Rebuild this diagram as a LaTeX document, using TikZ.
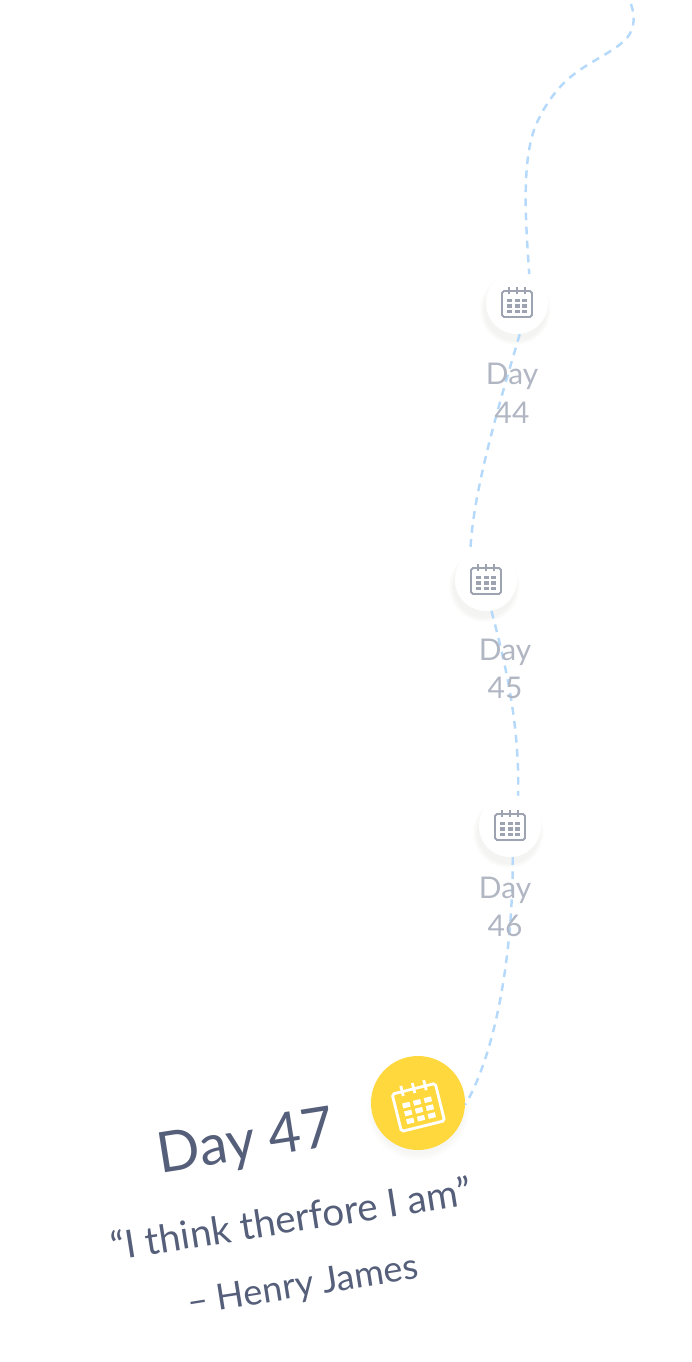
\documentclass[tikz,border=0pt]{standalone}
\usepackage{fontspec}
\setmainfont{Lato}
\usepackage{xcolor}
\usetikzlibrary{shadows,fadings}
\definecolor{trailBlue}{HTML}{B5D9FB}
\definecolor{iconGray}{HTML}{9DA3B1}
\definecolor{dayGray}{HTML}{B1B6C3}
\definecolor{inkNavy}{HTML}{555F7A}
\definecolor{sunYellow}{HTML}{FFD83D}
\newcommand{\calIcon}[5]{% centre, colour, angle, scale, line width
  \begin{scope}[shift={#1}, rotate=#3, scale=#4, draw=#2, fill=#2, line width=#5]
    \draw[fill=none, rounded corners=1.1pt] (-15,-12) rectangle (15,14);
    \foreach \ringX in {-8,0,8} \draw (\ringX,-16) -- (\ringX,-9);
    \foreach \dotX in {-7.5,0,7.5} \foreach \dotY in {-2.5,3,8.5}
      \fill[draw=none] (\dotX-2.5,\dotY-1.7) rectangle (\dotX+2.5,\dotY+1.7);
  \end{scope}
}
\begin{document}
\begin{tikzpicture}[
  x=0.02cm, y=-0.02cm,
  stop/.style={circle, minimum size=1.24cm, inner sep=0pt, fill=white,
               circular drop shadow={shadow xshift=-1pt, shadow yshift=-3pt, shadow scale=1.16, opacity=.07, fill=black!70!yellow}},
  today/.style={circle, minimum size=1.88cm, inner sep=0pt, fill=sunYellow,
               circular drop shadow={shadow xshift=0pt, shadow yshift=-3pt, shadow scale=1.1, opacity=.06, fill=black!70!yellow}},
  trail/.style={draw=trailBlue, line width=1.4pt, dash pattern=on 4.4pt off 3.6pt},
  daylabel/.style={font=\fontsize{17}{22}\selectfont, text=dayGray, align=center, inner sep=0pt},
  inklabel/.style={text=inkNavy, rotate=9, inner sep=0pt}
]
\useasboundingbox (0,0) rectangle (692,1362);

% stops
\node[stop] (cal44) at (517,303) {};
\node[stop] (cal45) at (486,580) {};
\node[stop] (cal46) at (510,826) {};
\node[today] (cal47) at (418,1103) {};

% trail, above the first stop
\coordinate (trailTop) at (631,4);
\coordinate (trailBend) at (627,38);
\coordinate (trailMid) at (573,75);
\coordinate (trailSwing) at (535,127);

\draw[trail] (trailTop) .. controls (635,16) and (635,28) .. (trailBend)
  .. controls (614,52) and (592,60) .. (trailMid)
  .. controls (556,88) and (543,108) .. (trailSwing)
  .. controls (521,165) and (526,225) .. (cal44.67);
\draw[trail] (cal44.-85) .. controls (505,385) and (472,490) .. (cal45.120);
\draw[trail] (cal45.-80) .. controls (503,655) and (520,720) .. (cal46.75);
\draw[trail] (cal46.-85) .. controls (513,950) and (497,1050) .. (cal47.-2);

% icons
\calIcon{(517,303)}{iconGray}{0}{1}{1.1pt}
\calIcon{(486,580)}{iconGray}{0}{1}{1.1pt}
\calIcon{(510,826)}{iconGray}{0}{1}{1.1pt}
\calIcon{(418,1106)}{white}{14}{1.48}{1.6pt}

% labels
\node[daylabel] (day44) at (512,393) {Day\\44};
\node[daylabel] (day45) at (505,669) {Day\\45};
\node[daylabel] (day46) at (505,907) {Day\\46};
\node[inklabel, font=\fontsize{32}{38}\selectfont] (day47) at (246,1144) {Day 47};
\node[inklabel, font=\fontsize{22}{26}\selectfont] (quote) at (291,1218) {“I think therfore I am”};
\node[inklabel, font=\fontsize{20.5}{24}\selectfont] (author) at (303,1287) {– Henry James};

\end{tikzpicture}
\end{document}
